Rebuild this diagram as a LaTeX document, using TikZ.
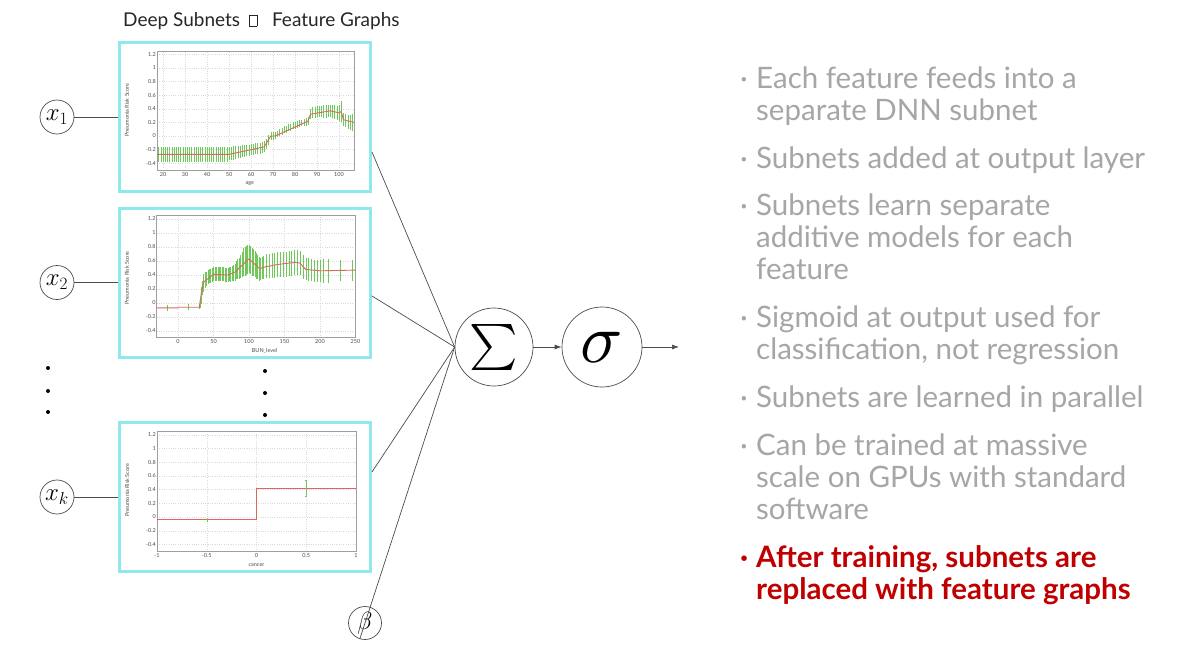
\documentclass[tikz,border=0pt]{standalone}
\usepackage{graphicx}
\usepackage{fontspec}
\setmainfont{Lato}
\usetikzlibrary{arrows.meta}

\definecolor{boxcyan}{RGB}{142,232,236}
\definecolor{bulletgray}{RGB}{166,166,166}
\definecolor{slidered}{RGB}{192,0,0}
\definecolor{bargreen}{RGB}{110,200,90}
\definecolor{fitred}{RGB}{215,105,95}

% empty glyph box as printed in the heading
\newcommand{\tofu}{{\setlength{\fboxsep}{0pt}\setlength{\fboxrule}{0.5pt}\fbox{\rule{0pt}{11pt}\rule{7pt}{0pt}}}}

\tikzset{
  neuron/.style={circle, draw=black!70, line width=0.7pt, inner sep=0pt, minimum size=34pt, font=\fontsize{25}{26}\selectfont},
  plotbox/.style={draw=boxcyan, line width=3pt, fill=white, inner sep=0pt, minimum width=251pt, minimum height=149pt},
  errbar/.style={bargreen, line width=0.35pt},
  fitline/.style={fitred, line width=0.9pt},
  gridline/.style={gray!30, dotted, line width=0.3pt},
  axisframe/.style={gray!75, line width=0.5pt},
  ticklab/.style={font=\fontsize{5.5}{6}\selectfont, text=gray!60!black, inner sep=1pt},
  vdot/.style={circle, fill=black, inner sep=0pt, minimum size=4pt},
  bullet/.style={anchor=base west, align=left, inner sep=0pt, text=bulletgray, font=\fontsize{29.5}{32}\selectfont},
  link/.style={draw=black!70, line width=0.7pt}
}

\begin{document}
\begin{tikzpicture}[x=1pt, y=-1pt]
  \fill[white] (0,0) rectangle (1178,657);
  \useasboundingbox (0,0) rectangle (1178,657);

  \node[anchor=base west, inner sep=0pt, font=\fontsize{19}{22}\selectfont, text=black!85] (title) at (123,26)
    {Deep Subnets\hspace{9pt}\tofu\hspace{15pt}Feature Graphs};

  % feature graphs
  \node[plotbox] (box1) at (245,117) {};
  \node[plotbox] (box2) at (245,282.5) {};
  \node[plotbox] (box3) at (245,497) {};

  % age
  \begin{scope}[shift={(119,136)}, x=2.2pt, y=68pt]
    \foreach \a in {20,30,...,100} \draw[gridline] (\a,-.5) -- (\a,1.25);
    \foreach \b in {-0.4,-0.2,0,0.2,0.4,0.6,0.8,1,1.2} \draw[gridline] (17.3,\b) -- (106.8,\b);
    \draw[axisframe] (17.3,-.5) rectangle (106.8,1.25);
    \foreach \b [count=\i] in {-0.4,-0.2,0,0.2,0.4,0.6,0.8,1,1.2}
      \node[ticklab, anchor=east] (ya\i) at (17.3,\b) {\b};
    \foreach \a [count=\i] in {20,30,...,100}
      \node[ticklab, anchor=north, yshift=-1pt] (xa\i) at (\a,-.5) {\a};
    \node[ticklab, rotate=90] (ylaba) at (3.6,.38) {Pneumonia Risk Score};
    \node[ticklab] (xlaba) at (59.5,-.7) {age};
    \foreach \a in {18,19,...,49} \draw[errbar] (\a,-.38) -- (\a,-.16);
    \foreach \a/\v/\e in {50/-.26/.1, 51/-.26/.1, 52/-.25/.1, 53/-.24/.1, 54/-.23/.09, 55/-.23/.09,
        56/-.22/.09, 57/-.22/.09, 58/-.21/.08, 59/-.21/.08, 60/-.2/.08, 61/-.2/.08, 62/-.19/.08,
        63/-.19/.08, 64/-.18/.08, 65/-.17/.08, 66/-.16/.08, 67/-.12/.07, 68/-.06/.07, 69/0/.06,
        70/0/.06, 71/.01/.05, 72/.03/.05, 73/.05/.05, 74/.07/.05, 75/.09/.05, 76/.1/.05, 77/.12/.05,
        78/.13/.05, 79/.15/.05, 80/.16/.05, 81/.17/.05, 82/.18/.05, 83/.19/.05, 84/.2/.05,
        85/.21/.06, 86/.22/.06, 87/.32/.07, 88/.34/.08, 89/.35/.08, 90/.36/.08, 91/.36/.08,
        92/.36/.08, 93/.36/.09, 94/.36/.09, 95/.37/.09, 96/.37/.09, 97/.36/.1, 98/.35/.1,
        99/.34/.1, 100/.34/.12, 101/.36/.15, 102/.24/.1, 103/.23/.1, 104/.21/.1, 105/.2/.11, 106/.2/.12}
      \draw[errbar] (\a,{\v-\e}) -- (\a,{\v+\e});
    \draw[fitline] (17.3,-.27) -- (50,-.27) -- (66,-.16) -- (69,0) -- (71,0) -- (86,.22)
      -- (87,.32) -- (96,.37) -- (100,.34) -- (101,.36) -- (102,.24) -- (106.8,.2);
  \end{scope}

  % BUN_level
  \begin{scope}[shift={(178,303)}, x=0.71pt, y=70pt]
    \foreach \a in {0,50,...,250} \draw[gridline] (\a,-.49) -- (\a,1.26);
    \foreach \b in {-0.4,-0.2,0,0.2,0.4,0.6,0.8,1,1.2} \draw[gridline] (-30,\b) -- (250,\b);
    \draw[axisframe] (-30,-.49) rectangle (250,1.26);
    \foreach \b [count=\i] in {-0.4,-0.2,0,0.2,0.4,0.6,0.8,1,1.2}
      \node[ticklab, anchor=east] (yb\i) at (-30,\b) {\b};
    \foreach \a [count=\i] in {0,50,...,250}
      \node[ticklab, anchor=north, yshift=-1pt] (xb\i) at (\a,-.49) {\a};
    \node[ticklab, rotate=90] (ylabb) at (-72,.36) {Pneumonia Risk Score};
    \node[ticklab] (xlabb) at (122,-.68) {BUN\_level};
    \foreach \a/\v/\e in {-15/-.07/.04, 15/-.06/.04, 30/-.05/.04, 31/-.02/.05, 32/.05/.06,
        33/.15/.08, 34/.22/.1, 35/.28/.12, 36/.3/.12, 38/.33/.11, 40/.35/.1, 42/.37/.1,
        44/.38/.1, 46/.39/.1, 48/.4/.1, 50/.41/.1, 52/.41/.1, 54/.42/.1, 56/.42/.1, 58/.41/.1,
        60/.41/.1, 62/.41/.1, 64/.41/.1, 66/.4/.1, 68/.4/.1, 70/.4/.1, 72/.41/.1, 74/.41/.11,
        76/.42/.11, 78/.43/.12, 80/.44/.12, 82/.47/.13, 84/.49/.14, 86/.5/.15, 88/.52/.16,
        90/.55/.18, 92/.58/.2, 94/.59/.21, 96/.61/.21, 98/.62/.21, 100/.63/.2, 102/.61/.2,
        104/.59/.2, 106/.58/.19, 108/.56/.19, 110/.53/.18, 112/.51/.17, 114/.49/.17,
        116/.49/.16, 118/.5/.16, 120/.51/.16, 124/.53/.17, 128/.53/.17, 132/.54/.18,
        136/.54/.18, 140/.55/.18, 144/.55/.18, 148/.55/.18, 152/.55/.18, 156/.56/.18,
        160/.56/.18, 164/.58/.18, 168/.58/.18, 172/.57/.17, 176/.52/.17, 180/.49/.16,
        184/.48/.16, 188/.47/.16, 192/.46/.16, 196/.46/.16, 200/.46/.16, 205/.46/.17,
        212/.46/.17, 228/.47/.15, 245/.47/.15}
      \draw[errbar] (\a,{\v-\e}) -- (\a,{\v+\e});
    \draw[fitline] (-30,-.07) -- (0,-.07) -- (0,-.06) -- (30,-.06) -- (33,.15) -- (36,.3)
      -- (50,.41) -- (70,.4) -- (80,.44) -- (100,.63) -- (115,.49) -- (120,.51) -- (140,.55)
      -- (165,.58) -- (172,.57) -- (176,.52) -- (180,.48) -- (200,.46) -- (250,.47);
  \end{scope}

  % cancer
  \begin{scope}[shift={(256.5,517)}, x=99.5pt, y=68.5pt]
    \foreach \a in {-0.5,0,0.5} \draw[gridline] (\a,-.5) -- (\a,1.25);
    \foreach \b in {-0.4,-0.2,0,0.2,0.4,0.6,0.8,1,1.2} \draw[gridline] (-1,\b) -- (1,\b);
    \draw[axisframe] (-1,-.5) rectangle (1,1.25);
    \foreach \b [count=\i] in {-0.4,-0.2,0,0.2,0.4,0.6,0.8,1,1.2}
      \node[ticklab, anchor=east] (yc\i) at (-1,\b) {\b};
    \foreach \a [count=\i] in {-1,-0.5,0,0.5,1}
      \node[ticklab, anchor=north, yshift=-1pt] (xc\i) at (\a,-.5) {\a};
    \node[ticklab, rotate=90] (ylabc) at (-1.3,.39) {Pneumonia Risk Score};
    \node[ticklab] (xlabc) at (0,-.7) {cancer};
    \draw[fitline] (-1,-.04) -- (0,-.04) -- (0,.42) -- (1,.42);
    \draw[errbar] (-.5,-.07) -- (-.5,-.01);
    \draw[errbar] (.5,.3) -- (.5,.54);
    \draw[errbar] (.49,.3) -- (.51,.3) (.49,.54) -- (.51,.54);
  \end{scope}

  % inputs
  \node[neuron] (x1) at (57,117) {$x_1$};
  \node[neuron] (x2) at (57,282.5) {$x_2$};
  \node[neuron] (xk) at (57,497) {$x_k$};
  \node[neuron, minimum size=33pt] (beta) at (365,623) {$\beta$};
  \node[vdot] (d1) at (48,368) {};
  \node[vdot] (d2) at (48,391) {};
  \node[vdot] (d3) at (48,412) {};
  \node[vdot] (d4) at (265,371) {};
  \node[vdot] (d5) at (265,393) {};
  \node[vdot] (d6) at (265,415) {};

  % output units
  \node[neuron, minimum size=78pt, font=\normalsize] (sum) at (494,347) {\scalebox{4.6}{$\sum$}};
  \node[neuron, minimum size=80pt, font=\normalsize] (sig) at (602,347) {\scalebox{7}{$\sigma$}};
  \coordinate (out) at (679,347);

  \draw[link] (x1) -- (box1);
  \draw[link] (x2) -- (box2);
  \draw[link] (xk) -- (box3);
  \draw[link] ([yshift=-35pt]box1.east) -- (sum.west);
  \draw[link] ([yshift=-13.5pt]box2.east) -- (sum.west);
  \draw[link] ([yshift=25pt]box3.east) -- (sum.west);
  \draw[link] (beta.-108) -- (sum.west);
  \draw[link, -{Latex[length=7pt, width=5pt]}] (sum) -- (sig);
  \draw[link, -{Latex[length=7pt, width=5pt]}] (sig) -- (out);

  % bullet points (a multi-line node sits on its last baseline)
  \foreach \y [count=\i] in {88,168,215,327,407,455}
    \node[bullet] (m\i) at (740,\y) {·};
  \node[bullet, text=slidered, font=\fontsize{29.5}{32}\selectfont\bfseries] (m7) at (740,567) {·};
  \node[bullet] (t1) at (756,120) {Each feature feeds into a\\separate DNN subnet};
  \node[bullet] (t2) at (756,168) {Subnets added at output layer};
  \node[bullet] (t3) at (756,279) {Subnets learn separate\\additive models for each\\feature};
  \node[bullet] (t4) at (756,359) {Sigmoid at output used for\\classification, not regression};
  \node[bullet] (t5) at (756,407) {Subnets are learned in parallel};
  \node[bullet] (t6) at (756,519) {Can be trained at massive\\scale on GPUs with standard\\software};
  \node[bullet, text=slidered, font=\fontsize{29.5}{32}\selectfont\bfseries] (t7) at (756,599)
    {After training, subnets are\\replaced with feature graphs};
\end{tikzpicture}
\end{document}
